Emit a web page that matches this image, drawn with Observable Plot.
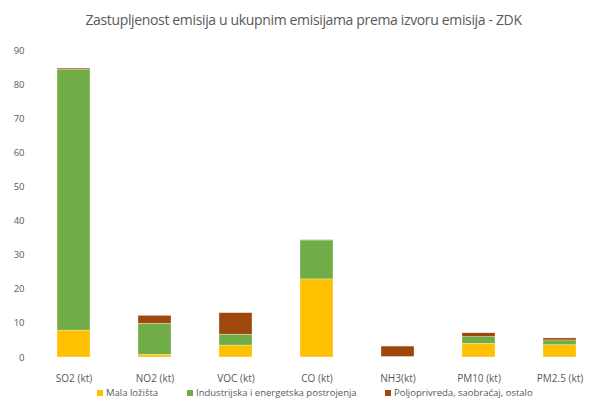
<!DOCTYPE html>
<html>
<head>
<meta charset="utf-8">
<script src="https://cdn.jsdelivr.net/npm/d3@7"></script>
<script src="https://cdn.jsdelivr.net/npm/@observablehq/plot@0.6"></script>
<style>
  html, body { margin: 0; padding: 0; background: #fff; }
  body { width: 607px; height: 404px; position: relative; overflow: hidden; font-family: "Open Sans", "Noto Sans", sans-serif; }
  #title { height: 40px; line-height: 40px; text-align: center; font-size: 14px; color: #595959; letter-spacing: -0.35px; }
  #legend { position: absolute; top: 386px; left: 0; width: 607px; height: 14px; font-size: 9.5px; color: #595959; }
  #legend span.item { position: absolute; top: 0; white-space: nowrap; }
  #legend i { display: inline-block; width: 6px; height: 6px; margin-right: 3px; vertical-align: 0px; }
</style>
</head>
<body>
<div id="title">Zastupljenost emisija u ukupnim emisijama prema izvoru emisija - ZDK</div>
<div id="chart"></div>
<div id="legend"></div>
<script>
const categories = ["SO2 (kt)", "NO2 (kt)", "VOC (kt)", "CO (kt)", "NH3(kt)", "PM10 (kt)", "PM2.5 (kt)"];
const seriesNames = ["Mala ložišta", "Industrijska i energetska postrojenja", "Poljoprivreda, saobraćaj, ostalo"];
const malaLozista = [7.9, 0.8, 3.5, 22.9, 0.1, 4.0, 3.6];
const industrija = [76.5, 9.1, 3.2, 11.4, 0.1, 2.0, 1.4];
const poljoprivreda = [0.3, 2.3, 6.3, 0.1, 3.0, 1.1, 0.6];
const yTicks = [0, 10, 20, 30, 40, 50, 60, 70, 80, 90];
const colors = ["#FFC000", "#70AD47", "#9E480E"];

const seriesValues = [malaLozista, industrija, poljoprivreda];
const rows = [];
seriesNames.forEach((s, si) => {
  categories.forEach((c, ci) => rows.push({category: c, series: s, value: seriesValues[si][ci]}));
});

const chart = Plot.plot({
  width: 607,
  height: 346,
  marginTop: 10,
  marginBottom: 29,
  marginLeft: 33,
  marginRight: 7,
  style: {fontFamily: "'Open Sans', 'Noto Sans', sans-serif", fontSize: "10px", color: "#595959", background: "white"},
  x: {domain: categories, paddingInner: 0.59, paddingOuter: 0.295, label: null},
  y: {domain: [0, 90], ticks: yTicks, label: null},
  color: {domain: seriesNames, range: colors},
  marks: [
    Plot.gridY(yTicks, {stroke: "#d9d9d9", strokeOpacity: 1, strokeWidth: 1, x1: 33, x2: 600}),
    Plot.axisY(yTicks, {tickSize: 0, tickPadding: 9, fontSize: 9.5, fill: "#595959", label: null}),
    Plot.axisX({tickSize: 0, tickPadding: 17, fontSize: 10, fill: "#595959", label: null}),
    Plot.barY(rows, Plot.stackY({x: "category", y: "value", fill: "series", order: seriesNames, stroke: "white", strokeWidth: 0.5, strokeOpacity: 0.6}))
  ]
});
chart.style.overflow = "visible";
document.getElementById("chart").appendChild(chart);

const legendLefts = [97, 187, 385];
const legend = document.getElementById("legend");
seriesNames.forEach((s, i) => {
  const span = document.createElement("span");
  span.className = "item";
  span.style.left = legendLefts[i] + "px";
  const sw = document.createElement("i");
  sw.style.background = colors[i];
  span.appendChild(sw);
  span.appendChild(document.createTextNode(s));
  legend.appendChild(span);
});
</script>
</body>
</html>
